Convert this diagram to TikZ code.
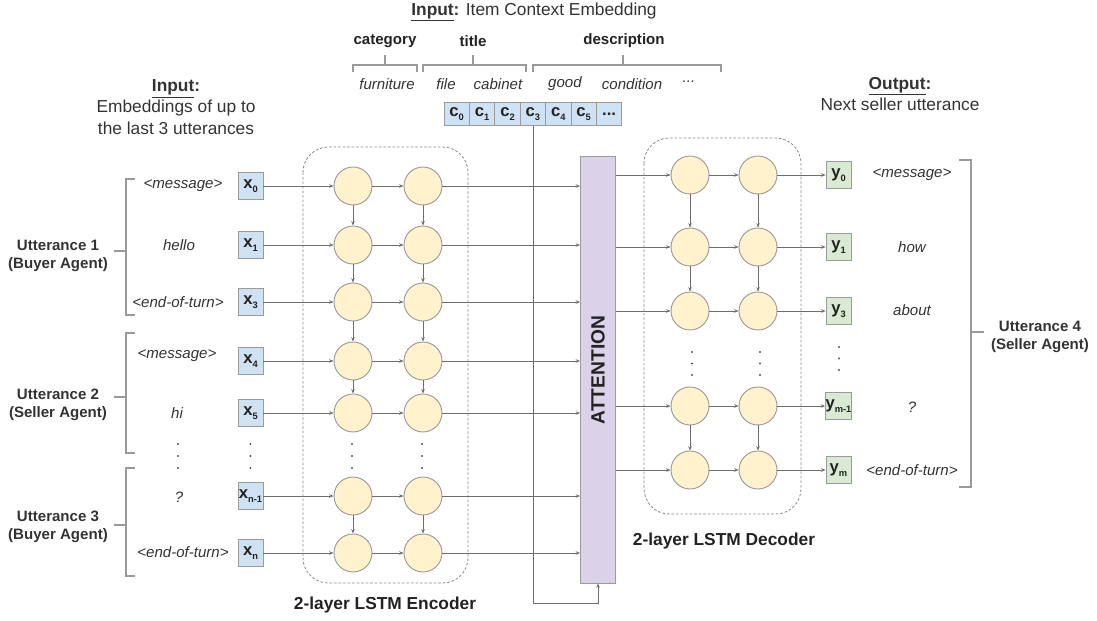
\documentclass[tikz,border=0pt]{standalone}
\usepackage{fontspec}
\setmainfont{Liberation Sans}
\usetikzlibrary{arrows.meta}

\definecolor{embblue}{HTML}{CFE2F3}
\definecolor{cellyellow}{HTML}{FFF2CC}
\definecolor{outgreen}{HTML}{D9EAD3}
\definecolor{attnpurple}{HTML}{D9D2E9}
\definecolor{edgegray}{HTML}{9A9A9A}
\definecolor{wiregray}{HTML}{6E6E6E}
\definecolor{dashgray}{HTML}{8A8A8A}
\definecolor{inkgray}{HTML}{333333}
\definecolor{inkdark}{HTML}{222222}
\definecolor{dotgray}{HTML}{555555}

% token label: bold letter with a small bold lowered index
\newcommand\tokl[2]{\textbf{#1}\raisebox{-0.5ex}{\fontsize{7}{7}\selectfont\bfseries #2}}

\tikzset{
  tokbox/.style={draw=edgegray, line width=0.7pt, minimum width=18.75pt, minimum height=20.25pt,
    inner sep=0pt, font=\fontsize{12.5}{13}\selectfont, text=inkdark},
  inbox/.style={tokbox, fill=embblue},
  outbox/.style={tokbox, fill=outgreen},
  ctxbox/.style={tokbox, fill=embblue, minimum width=19.05pt, minimum height=17pt},
  cell/.style={circle, draw=edgegray, line width=0.7pt, fill=cellyellow, minimum size=28.5pt, inner sep=0pt},
  wire/.style={draw=wiregray, line width=0.6pt},
  arr/.style={wire, -{Stealth[length=3.2pt,width=2.6pt]}},
  brace/.style={draw=edgegray, line width=0.8pt},
  group/.style={draw=dashgray, line width=0.6pt, dash pattern=on 2pt off 1.4pt, rounded corners=19pt},
  word/.style={font=\fontsize{11.3}{13.6}\selectfont\itshape, text=inkgray},
  smallhead/.style={font=\fontsize{11.3}{13.6}\selectfont\bfseries, text=inkdark},
  speaker/.style={font=\fontsize{11.3}{13.6}\selectfont\bfseries, text=inkgray, align=center},
  title/.style={font=\fontsize{13}{16}\selectfont, text=inkgray, align=center},
  caption/.style={font=\fontsize{13}{16}\selectfont\bfseries, text=inkdark},
  dotmark/.style={circle, fill=dotgray, inner sep=0pt, minimum size=1.6pt},
}

\begin{document}
\begin{tikzpicture}[x=0.75pt, y=-0.75pt]
\useasboundingbox (0,0) rectangle (1097,621);

% ---------- item context embedding ----------
\node[title] (ctxtitle) at (534,12) {\textbf{\underline{Input}:} Item Context Embedding};
\node[smallhead] (hcat) at (385,41) {category};
\node[smallhead] (htitle) at (473,41) {title};
\node[smallhead] (hdesc) at (624,41) {description};

\draw[brace] (353,72) -- (353,65) -- (417,65) -- (417,72);
\draw[brace] (385,65) -- (385,55);
\draw[brace] (423,72) -- (423,65) -- (526,65) -- (526,72);
\draw[brace] (473,65) -- (473,55);
\draw[brace] (533,72) -- (533,65) -- (721,65) -- (721,72);
\draw[brace] (623,65) -- (623,55);

\node[word] (wfurn) at (387,84) {furniture};
\node[word] (wfile) at (446,84) {file};
\node[word] (wcab) at (498,84) {cabinet};
\node[word] (wgood) at (565,84) {good};
\node[word] (wcond) at (632,84) {condition};
\node[word] (wmore) at (689,82) {...};

\foreach \i/\cx in {0/456.7, 1/482.1, 2/507.5, 3/532.9, 4/558.3, 5/583.7}
  \node[ctxbox] (c\i) at (\cx,114) {\tokl{c}{\i}};
\node[ctxbox] (c6) at (609.1,114) {\textbf{...}};

% ---------- input side ----------
\node[title] (intitle) at (176,107) {\textbf{\underline{Input}:}\\Embeddings of up to\\the last 3 utterances};

\node[word] (l0) at (183,186) {<message>};
\node[word] (l1) at (179,245) {hello};
\node[word] (l3) at (178,302) {<end-of-turn>};
\node[word] (l4) at (177,356) {<message>};
\node[word] (l5) at (177,413) {hi};
\node[word] (la) at (179,497) {?};
\node[word] (lb) at (183,552) {<end-of-turn>};

\draw[brace] (135,179) -- (126,179) -- (126,315) -- (135,315);
\draw[brace] (114,251) -- (126,251);
\draw[brace] (135,333) -- (126,333) -- (126,453) -- (135,453);
\draw[brace] (114,397) -- (126,397);
\draw[brace] (135,468) -- (126,468) -- (126,576) -- (135,576);
\draw[brace] (114,525) -- (126,525);

\node[speaker] (u1) at (58,256) {Utterance 1\\(Buyer Agent)};
\node[speaker] (u2) at (58,405) {Utterance 2\\(Seller Agent)};
\node[speaker] (u3) at (58,527) {Utterance 3\\(Buyer Agent)};

% ---------- encoder ----------
\draw[group] (303,147) rectangle (468,583);
\node[caption] (enccap) at (385,605) {2-layer LSTM Encoder};

\node[draw=edgegray, line width=0.7pt, fill=attnpurple, minimum width=26.25pt, minimum height=320.25pt, inner sep=0pt] (att) at (598,369.5) {};
\node[rotate=90, font=\fontsize{14.4}{15}\selectfont\bfseries, text=inkdark] (attlabel) at (598,370) {ATTENTION};

\foreach \i/\yy/\s in {0/186/0, 1/245/1, 3/302/3, 4/361/4, 5/413/5, a/496/n-1, b/553/n} {
  \node[inbox] (x\i) at (250.5,\yy) {\tokl{x}{\s}};
  \node[cell] (ea\i) at (353,\yy) {};
  \node[cell] (eb\i) at (423,\yy) {};
  \draw[arr] (x\i) -- (ea\i);
  \draw[arr] (ea\i) -- (eb\i);
  \draw[arr] (eb\i) -- (eb\i -| att.west);
}
\foreach \u/\v in {0/1, 1/3, 3/4, 4/5, a/b} {
  \draw[arr] (ea\u) -- (ea\v);
  \draw[arr] (eb\u) -- (eb\v);
}

% vertical ellipses for the elided rows
\foreach \n/\xx in {ldots/178, xdots/250.5, adots/352, bdots/422}
  \foreach \k/\yy in {1/444, 2/456, 3/468}
    \node[dotmark] (\n\k) at (\xx,\yy) {};

% context vector into the attention block
\coordinate (ctxturn) at (598,603);
\draw[arr] (c3.south) |- (ctxturn) -- (att.south);

% ---------- decoder ----------
\draw[group] (644,138) rectangle (801,514);
\node[caption] (deccap) at (724,541) {2-layer LSTM Decoder};

\foreach \i/\yy/\s in {0/175/0, 1/247/1, 3/311/3, a/406/m-1, b/470/m} {
  \node[cell] (da\i) at (690,\yy) {};
  \node[cell] (db\i) at (758,\yy) {};
  \node[outbox] (y\i) at (838.5,\yy) {\tokl{y}{\s}};
  \draw[arr] (att.east |- da\i) -- (da\i);
  \draw[arr] (da\i) -- (db\i);
  \draw[arr] (db\i) -- (y\i);
}
\foreach \u/\v in {0/1, 1/3, a/b} {
  \draw[arr] (da\u) -- (da\v);
  \draw[arr] (db\u) -- (db\v);
}
\foreach \n/\xx in {cdots/692, ddots/760}
  \foreach \k/\yy in {1/352, 2/363.5, 3/375}
    \node[dotmark] (\n\k) at (\xx,\yy) {};
\foreach \k/\yy in {1/347, 2/358.5, 3/370}
  \node[dotmark] (ydots\k) at (839,\yy) {};

% ---------- output side ----------
\node[title] (outtitle) at (900,94) {\textbf{\underline{Output}:}\\Next seller utterance};

\node[word] (r0) at (912,175) {<message>};
\node[word] (r1) at (912,247) {how};
\node[word] (r3) at (912,310) {about};
\node[word] (ra) at (912,407) {?};
\node[word] (rb) at (912,470) {<end-of-turn>};

\draw[brace] (959,160) -- (971,160) -- (971,487) -- (959,487);
\draw[brace] (971,332) -- (984,332);
\node[speaker] (u4) at (1040,337) {Utterance 4\\(Seller Agent)};
\end{tikzpicture}
\end{document}
